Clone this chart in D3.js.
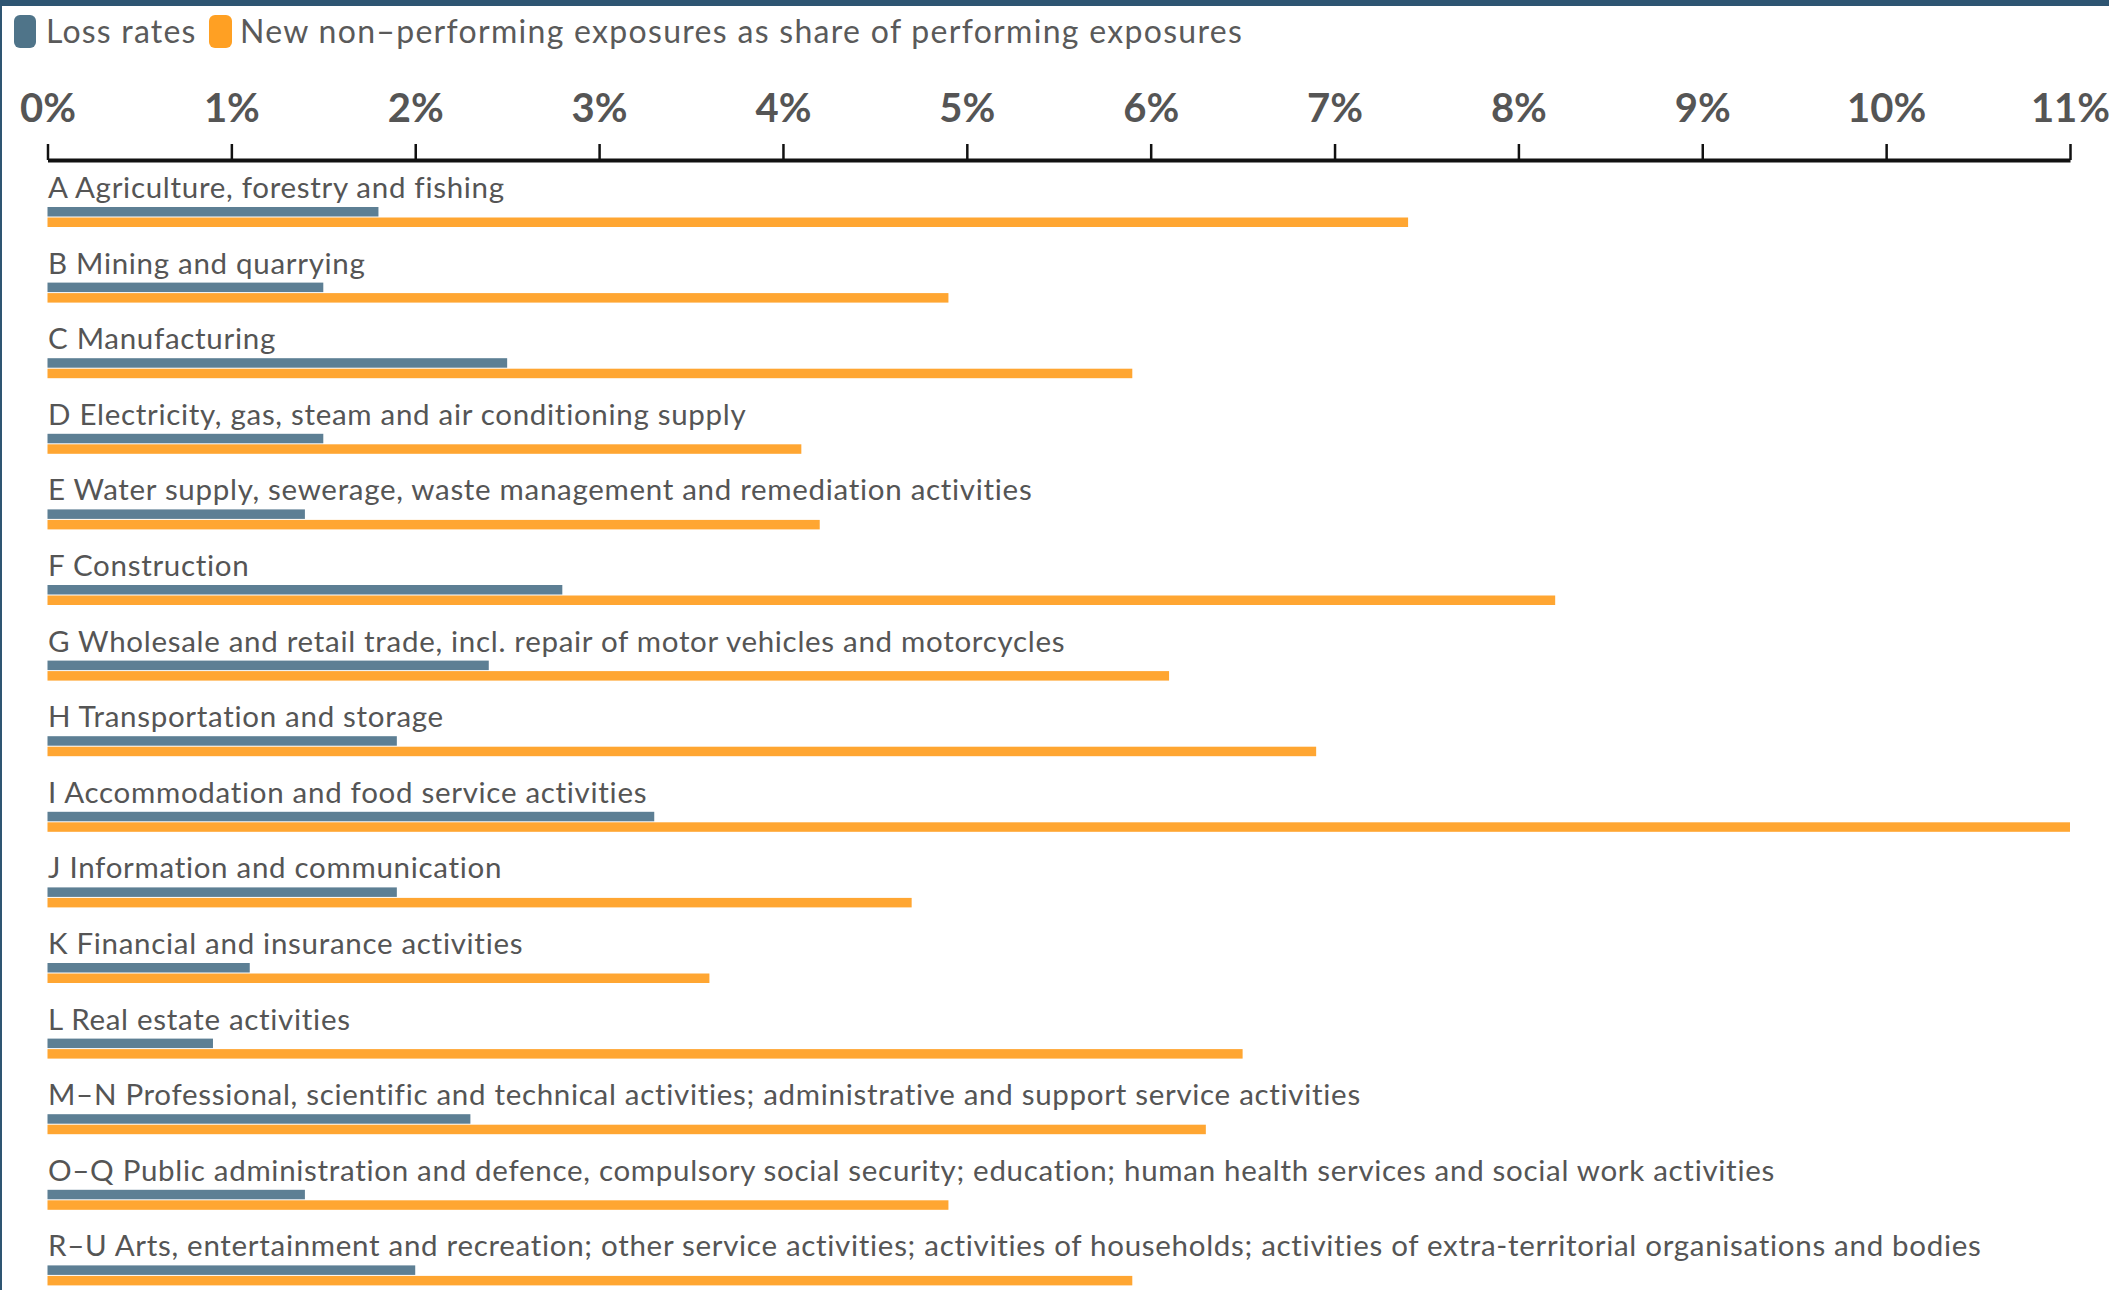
<!DOCTYPE html>
<html>
<head>
<meta charset="utf-8">
<script src="https://cdn.jsdelivr.net/npm/d3@7"></script>
<style>
  html, body { margin: 0; padding: 0; background: #fff; }
  svg { display: block; }
</style>
</head>
<body>
<svg id="chart" width="2109" height="1290"></svg>
<script>
const categories = [
  "A Agriculture, forestry and fishing",
  "B Mining and quarrying",
  "C Manufacturing",
  "D Electricity, gas, steam and air conditioning supply",
  "E Water supply, sewerage, waste management and remediation activities",
  "F Construction",
  "G Wholesale and retail trade, incl. repair of motor vehicles and motorcycles",
  "H Transportation and storage",
  "I Accommodation and food service activities",
  "J Information and communication",
  "K Financial and insurance activities",
  "L Real estate activities",
  "M\u2013N Professional, scientific and technical activities; administrative and support service activities",
  "O\u2013Q Public administration and defence, compulsory social security; education; human health services and social work activities",
  "R\u2013U Arts, entertainment and recreation; other service activities; activities of households; activities of extra-territorial organisations and bodies"
];
const lossRates = [1.80, 1.50, 2.50, 1.50, 1.40, 2.80, 2.40, 1.90, 3.30, 1.90, 1.10, 0.90, 2.30, 1.40, 2.00];
const newNPE    = [7.40, 4.90, 5.90, 4.10, 4.20, 8.20, 6.10, 6.90, 11.00, 4.70, 3.60, 6.50, 6.30, 4.90, 5.90];
const tickValues = [0,1,2,3,4,5,6,7,8,9,10,11];
const seriesNames = ["Loss rates", "New non\u2013performing exposures as share of performing exposures"];
const colors = { loss: "#5d7f94", npe: "#ffa632", lossLegend: "#4f7489", npeLegend: "#ffa023" };

const svg = d3.select("#chart");
const font = "Lato, 'Open Sans', sans-serif";

// frame: top band and left border
svg.append("rect").attr("x", 0).attr("y", 0).attr("width", 2109).attr("height", 6).attr("fill", "#2e5572");
svg.append("rect").attr("x", 0).attr("y", 0).attr("width", 2).attr("height", 1290).attr("fill", "#2e5572");

// legend
const lg = svg.append("g");
lg.append("rect").attr("x", 14).attr("y", 15).attr("width", 22).attr("height", 33).attr("rx", 6).attr("fill", colors.lossLegend);
lg.append("text").attr("x", 46).attr("y", 43).attr("font-family", font).attr("font-size", 32)
  .attr("letter-spacing", 1.2).attr("fill", "#5a5a5a").text(seriesNames[0]);
lg.append("rect").attr("x", 209).attr("y", 15).attr("width", 23).attr("height", 33).attr("rx", 6).attr("fill", colors.npeLegend);
lg.append("text").attr("x", 240).attr("y", 43).attr("font-family", font).attr("font-size", 32)
  .attr("letter-spacing", 1.3).attr("fill", "#5a5a5a").text(seriesNames[1]);

// scales
const x = d3.scaleLinear().domain([0, 11]).range([47.5, 2070]);
const y = d3.scaleBand().domain(categories).range([172, 172 + 15 * 75.6]).padding(0);

// axis
const axis = d3.axisTop(x).tickValues(tickValues).tickFormat(d => d + "%").tickSize(16).tickSizeOuter(0).tickPadding(22);
const ag = svg.append("g").attr("transform", "translate(0,160)").call(axis);
ag.select(".domain").attr("stroke", "#111").attr("stroke-width", 4);
ag.selectAll(".tick line").attr("stroke", "#111").attr("stroke-width", 2.5);
ag.selectAll(".tick text").attr("font-family", font).attr("font-weight", "bold")
  .attr("font-size", 40).attr("fill", "#555");

// rows
const rows = svg.append("g").selectAll("g").data(categories).join("g")
  .attr("transform", d => `translate(0,${y(d)})`);

rows.append("text")
  .attr("x", 48).attr("y", 26)
  .attr("font-family", font).attr("font-size", 29.5).attr("letter-spacing", 0.7).attr("fill", "#555")
  .text(d => d);

rows.append("rect")
  .attr("x", x(0)).attr("y", 35)
  .attr("width", (d, i) => x(lossRates[i]) - x(0)).attr("height", 9.5)
  .attr("fill", colors.loss);

rows.append("rect")
  .attr("x", x(0)).attr("y", 45.5)
  .attr("width", (d, i) => x(newNPE[i]) - x(0)).attr("height", 9.5)
  .attr("fill", colors.npe);
</script>
</body>
</html>
